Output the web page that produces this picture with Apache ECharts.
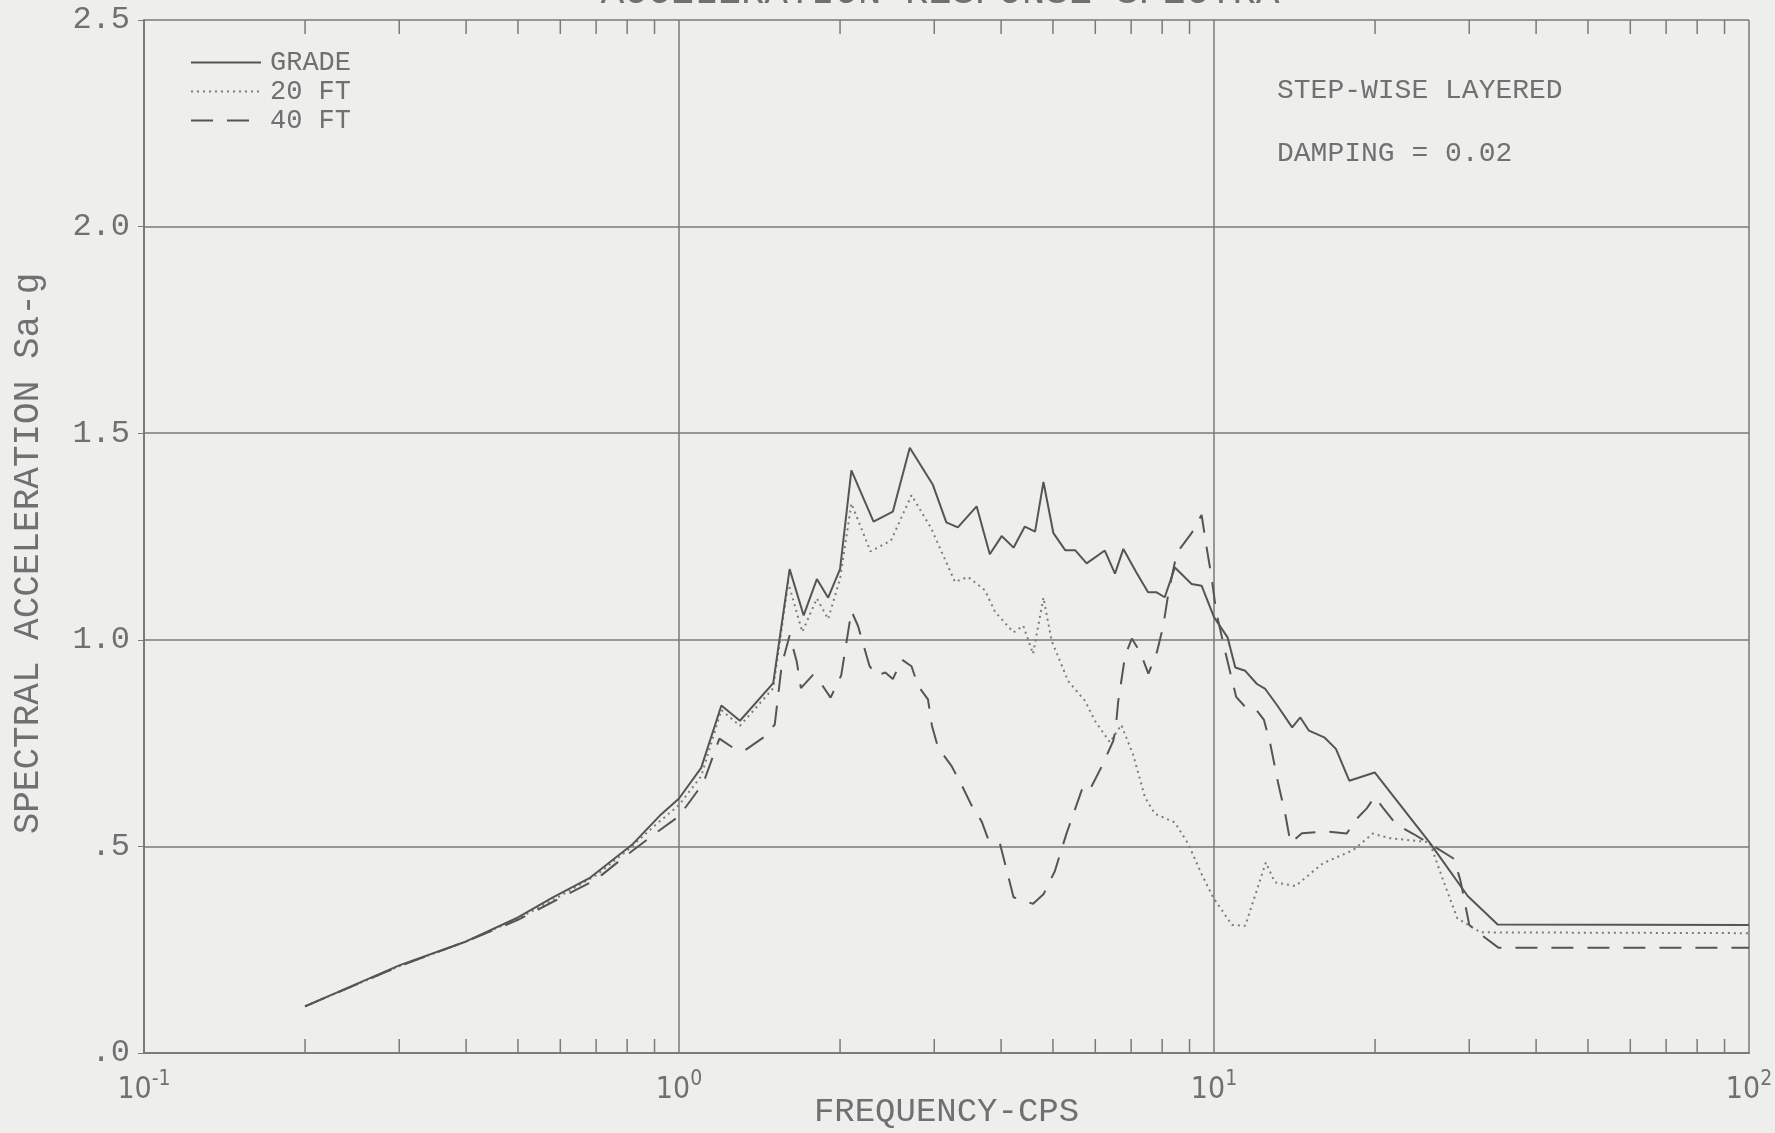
<!DOCTYPE html>
<html>
<head>
<meta charset="utf-8">
<script src="https://cdn.jsdelivr.net/npm/echarts@6/dist/echarts.min.js"></script>
<style>
html,body{margin:0;padding:0;background:#eeeeec;}
#chart{width:1775px;height:1133px;}
</style>
</head>
<body>
<div id="chart"></div>
<script>
// ---------------- data ----------------
const gradeFreq = [0.2,0.3,0.4,0.5,0.58,0.68,0.82,0.92,1.0,1.1,1.2,1.3,1.5,1.61,1.71,1.81,1.9,2.0,2.1,2.31,2.51,2.7,2.98,3.16,3.32,3.6,3.81,4.01,4.22,4.43,4.63,4.8,5.01,5.27,5.5,5.78,6.25,6.53,6.77,7.16,7.53,7.81,8.09,8.45,9.08,9.48,10.0,10.6,10.96,11.44,12.03,12.47,13.13,14.0,14.5,15.05,16.07,16.9,17.9,19.97,25.3,29.8,33.9,100];
const gradeVal  = [0.113,0.212,0.27,0.328,0.376,0.423,0.506,0.574,0.616,0.69,0.841,0.804,0.895,1.171,1.059,1.147,1.102,1.171,1.41,1.286,1.31,1.465,1.376,1.284,1.272,1.323,1.207,1.251,1.223,1.274,1.262,1.382,1.258,1.217,1.217,1.185,1.216,1.16,1.22,1.163,1.115,1.115,1.103,1.175,1.135,1.131,1.055,1.006,0.933,0.925,0.893,0.881,0.841,0.788,0.812,0.78,0.764,0.736,0.659,0.679,0.509,0.38,0.311,0.31];

const ft20Freq = [0.2,0.3,0.4,0.5,0.6,0.7,0.8,0.9,1.0,1.1,1.2,1.3,1.5,1.6,1.7,1.81,1.9,2.0,2.1,2.28,2.49,2.72,2.96,3.28,3.47,3.73,3.90,4.22,4.40,4.59,4.80,4.97,5.34,5.74,5.99,6.39,6.71,7.06,7.43,7.75,8.45,8.95,9.48,9.96,10.8,11.44,12.5,13.0,14.2,15.97,18.2,19.8,21.3,25.3,26.9,28.5,31.5,100];
const ft20Val  = [0.113,0.21,0.27,0.325,0.38,0.43,0.49,0.55,0.60,0.67,0.83,0.792,0.883,1.139,1.019,1.10,1.05,1.147,1.33,1.214,1.24,1.35,1.27,1.14,1.152,1.12,1.067,1.018,1.034,0.966,1.102,0.998,0.90,0.852,0.804,0.752,0.794,0.722,0.619,0.579,0.558,0.506,0.433,0.377,0.31,0.308,0.461,0.413,0.404,0.459,0.491,0.531,0.52,0.51,0.413,0.326,0.292,0.29];

const ft40Freq = [0.2,0.3,0.4,0.5,0.6,0.7,0.8,0.9,1.0,1.11,1.19,1.27,1.33,1.45,1.51,1.556,1.61,1.66,1.69,1.78,1.85,1.92,2.01,2.07,2.10,2.16,2.27,2.34,2.43,2.51,2.61,2.72,2.80,2.92,2.97,3.05,3.23,3.38,3.52,3.68,3.79,3.98,4.22,4.59,4.80,5.04,5.30,5.69,5.86,6.16,6.48,6.55,6.62,6.82,7.02,7.28,7.54,7.82,8.04,8.22,8.52,9.08,9.48,9.68,9.89,10.1,10.5,11.0,11.5,12.0,12.4,12.75,13.2,13.6,13.9,14.6,16.2,17.7,18.4,19.3,19.97,20.7,21.9,23.6,25.4,28.1,28.9,30.0,31.8,34,100];
const ft40Val  = [0.113,0.21,0.27,0.322,0.375,0.42,0.48,0.53,0.573,0.653,0.761,0.736,0.733,0.767,0.795,0.939,1.011,0.947,0.883,0.915,0.891,0.86,0.914,1.018,1.07,1.034,0.937,0.913,0.921,0.905,0.952,0.936,0.888,0.856,0.792,0.739,0.695,0.647,0.60,0.56,0.515,0.507,0.377,0.361,0.384,0.44,0.531,0.645,0.637,0.692,0.755,0.785,0.85,0.961,1.003,0.97,0.918,0.97,1.034,1.114,1.21,1.258,1.302,1.226,1.154,1.066,0.970,0.862,0.834,0.83,0.806,0.746,0.649,0.576,0.508,0.532,0.536,0.531,0.564,0.592,0.62,0.593,0.553,0.53,0.505,0.47,0.416,0.31,0.283,0.255,0.255];

const seriesNames = ['GRADE', '20 FT', '40 FT'];
const xTickValues = [0.1, 1, 10, 100];
const xTickExponents = ['-1', '0', '1', '2'];
const yTickLabels = ['.0', '.5', '1.0', '1.5', '2.0', '2.5'];
const minorTicks = [0.2,0.3,0.4,0.5,0.6,0.7,0.8,0.9,2,3,4,5,6,7,8,9,20,30,40,50,60,70,80,90];
const titleText = 'ACCELERATION RESPONSE SPECTRA';
const xName = 'FREQUENCY-CPS';
const yName = 'SPECTRAL ACCELERATION Sa-g';
const notes = ['STEP-WISE LAYERED', 'DAMPING = 0.02'];

// ---------------- styling ----------------
const NARROW = "'Liberation Sans Narrow','DejaVu Sans Condensed','Liberation Sans',sans-serif";
const MONO = "'Liberation Mono','DejaVu Sans Mono',monospace";
const TXT = '#707070';
const LINE = '#555555';
const GRID = '#7a7a7a';

const pair = (fs, vs) => fs.map((f, i) => [f, vs[i]]);

const chart = echarts.init(document.getElementById('chart'), null, {renderer: 'canvas'});

const option = {
  backgroundColor: '#eeeeec',
  animation: false,
  grid: {left: 144, right: 26, top: 20, bottom: 80, containLabel: false, outerBoundsMode: 'none'},
  legend: {
    data: seriesNames,
    orient: 'vertical',
    left: 185, top: 44,
    itemWidth: 70, itemHeight: 20, itemGap: 2,
    itemStyle: {opacity: 0},
    textStyle: {fontFamily: MONO, fontSize: 27, color: TXT, lineHeight: 20, padding: [0,0,0,4]},
    inactiveColor: '#ccc'
  },
  xAxis: {
    type: 'log', logBase: 10, min: 0.1, max: 100,
    axisLine: {show: true, lineStyle: {color: GRID, width: 2}},
    axisTick: {show: false},
    splitLine: {show: true, lineStyle: {color: GRID, width: 1.5}},
    axisLabel: {
      margin: 16,
      formatter: v => {
        const i = xTickValues.findIndex(t => Math.abs(Math.log10(t) - Math.log10(v)) < 1e-6);
        return i >= 0 ? '{b|10}{s|' + xTickExponents[i] + '}' : '';
      },
      rich: {
        b: {fontFamily: NARROW, fontSize: 30, color: TXT, lineHeight: 36, verticalAlign: 'bottom'},
        s: {fontFamily: NARROW, fontSize: 21, color: TXT, lineHeight: 16, verticalAlign: 'top'}
      }
    },
    name: xName, nameLocation: 'middle', nameGap: 42, nameMoveOverlap: false,
    nameTextStyle: {color: TXT, fontFamily: MONO, fontSize: 34}
  },
  yAxis: {
    type: 'value', min: 0, max: 2.5, interval: 0.5,
    axisLine: {show: true, lineStyle: {color: GRID, width: 2}},
    axisTick: {show: true, length: 6, lineStyle: {color: GRID}},
    splitLine: {show: true, lineStyle: {color: GRID, width: 1.5}},
    axisLabel: {
      margin: 14, color: TXT, fontFamily: MONO, fontSize: 32,
      formatter: v => yTickLabels[Math.round(v / 0.5)]
    },
    name: yName, nameLocation: 'middle', nameGap: 98, nameMoveOverlap: false,
    nameTextStyle: {color: TXT, fontFamily: MONO, fontSize: 36, padding: [0, 34, 0, 0]}
  },
  graphic: [
    {type: 'text', x: 940, y: -7, silent: true,
     style: {text: titleText, fill: TXT, font: "39px 'Liberation Mono', monospace", align: 'center', verticalAlign: 'middle'}},
    {type: 'text', x: 1277, y: 91, silent: true,
     style: {text: notes[0], fill: TXT, fontFamily: MONO, fontSize: 28, align: 'left', verticalAlign: 'middle'}},
    {type: 'text', x: 1277, y: 154, silent: true,
     style: {text: notes[1], fill: TXT, fontFamily: MONO, fontSize: 28, align: 'left', verticalAlign: 'middle'}}
  ],
  series: [
    {name: seriesNames[0], type: 'line', data: pair(gradeFreq, gradeVal), symbol: 'none',
     lineStyle: {color: LINE, width: 2, type: 'solid'}, itemStyle: {color: LINE}, z: 5},
    {name: seriesNames[1], type: 'line', data: pair(ft20Freq, ft20Val), symbol: 'none',
     lineStyle: {color: '#7c7c7c', width: 2, type: [2, 4]}, itemStyle: {color: '#7c7c7c'}, z: 4},
    {name: seriesNames[2], type: 'line', data: pair(ft40Freq, ft40Val), symbol: 'none',
     lineStyle: {color: LINE, width: 2, type: [22, 14]}, itemStyle: {color: LINE}, z: 4},
    {name: 'minorTicks', type: 'custom', silent: true, clip: false,
     data: minorTicks.map(f => [f, 0]),
     renderItem: (params, api) => {
       const f = api.value(0);
       const b = api.coord([f, 0]);
       const t = api.coord([f, 2.5]);
       const st = {stroke: GRID, lineWidth: 1.5};
       return {type: 'group', children: [
         {type: 'line', shape: {x1: b[0], y1: b[1], x2: b[0], y2: b[1] - 14}, style: st},
         {type: 'line', shape: {x1: t[0], y1: t[1], x2: t[0], y2: t[1] + 14}, style: st}
       ]};
     }}
  ]
};
chart.setOption(option);
</script>
</body>
</html>
